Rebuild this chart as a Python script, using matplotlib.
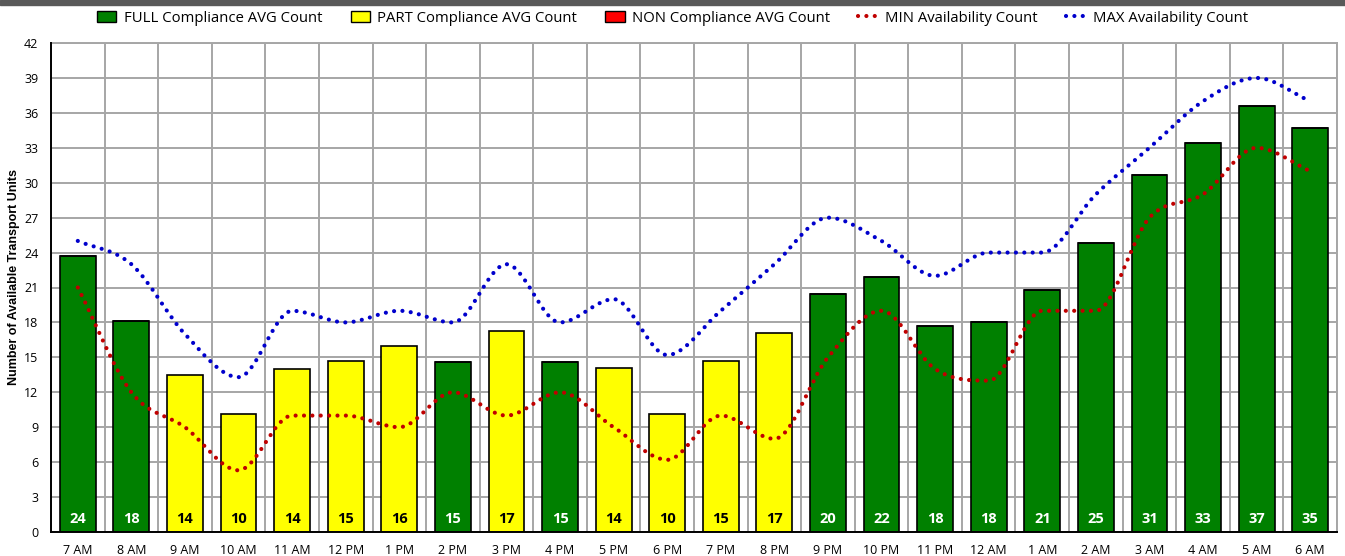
import matplotlib
matplotlib.use("Agg")
import matplotlib.pyplot as plt
from matplotlib.path import Path
from matplotlib.patches import PathPatch, Patch
from matplotlib.lines import Line2D
import numpy as np

hours = ["7 AM", "8 AM", "9 AM", "10 AM", "11 AM", "12 PM", "1 PM", "2 PM", "3 PM",
         "4 PM", "5 PM", "6 PM", "7 PM", "8 PM", "9 PM", "10 PM", "11 PM", "12 AM",
         "1 AM", "2 AM", "3 AM", "4 AM", "5 AM", "6 AM"]

full_avg = [23.7, 18.1, 0, 0, 0, 0, 0, 14.6, 0, 14.6, 0, 0, 0, 0,
            20.4, 21.9, 17.7, 18.0, 20.8, 24.8, 30.7, 33.4, 36.6, 34.7]
part_avg = [0, 0, 13.5, 10.1, 14.0, 14.7, 16.0, 0, 17.3, 0, 14.1, 10.1, 14.7, 17.1,
            0, 0, 0, 0, 0, 0, 0, 0, 0, 0]
non_avg = [0] * 24

min_avail = [21, 12, 9, 5.3, 10, 10, 9, 12, 10, 12, 9, 6.2, 10, 8,
             15, 19, 14, 13, 19, 19, 27, 29, 33, 31]
max_avail = [25, 23, 17, 13.3, 19, 18, 19, 18, 23, 18, 20, 15.2, 19, 23,
             27, 25, 22, 24, 24, 29, 33, 37, 39, 37]

GREEN = "#008000"
YELLOW = "#ffff00"
RED = "#ff0000"
LINE_RED = "#c00000"
LINE_BLUE = "#0000cc"
GRID = "#a6a6a6"


def smooth_path(xs, ys):
    # bezier segments through every point, flat at peaks/valleys (smoothed line look)
    xs = np.asarray(xs, dtype=float)
    ys = np.asarray(ys, dtype=float)
    n = len(xs)
    d = np.diff(ys) / np.diff(xs)
    m = np.zeros(n)
    m[0] = d[0]
    m[-1] = d[-1]
    for i in range(1, n - 1):
        if d[i - 1] * d[i] > 0:
            m[i] = (d[i - 1] + d[i]) / 2.0
            lim = 3 * min(abs(d[i - 1]), abs(d[i]))
            if abs(m[i]) > lim:
                m[i] = np.sign(m[i]) * lim
    verts = [(xs[0], ys[0])]
    codes = [Path.MOVETO]
    for i in range(n - 1):
        h = xs[i + 1] - xs[i]
        verts += [(xs[i] + h / 3, ys[i] + m[i] * h / 3),
                  (xs[i + 1] - h / 3, ys[i + 1] - m[i + 1] * h / 3),
                  (xs[i + 1], ys[i + 1])]
        codes += [Path.CURVE4] * 3
    return Path(verts, codes)


plt.rcParams['font.family'] = ['Open Sans', 'DejaVu Sans']

fig = plt.figure(figsize=(13.45, 5.56), dpi=100)
ax = fig.add_axes([51 / 1345, 1 - 532 / 556, (1337 - 51) / 1345, (532 - 43) / 556])

# dark strip on the very top
fig.patches.append(plt.Rectangle((0, 1 - 5 / 556), 1, 5 / 556, transform=fig.transFigure,
                                 color="#595959", zorder=0))

x = np.arange(len(hours))
full = np.array(full_avg)
part = np.array(part_avg)
non = np.array(non_avg)

ax.bar(x, full, width=0.67, color=GREEN, edgecolor="black", linewidth=1.2, zorder=3)
ax.bar(x, part, width=0.67, bottom=full, color=YELLOW, edgecolor="black", linewidth=1.2, zorder=3)
ax.bar(x, non, width=0.67, bottom=full + part, color=RED, edgecolor="black", linewidth=0, zorder=3)

totals = full + part + non
for xi, f, t in zip(x, full, totals):
    col = "white" if f > 0 else "black"
    ax.text(xi, 1.15, str(int(t + 0.5)), ha="center", va="center", fontsize=10.5,
            fontweight="bold", color=col, zorder=5)

dot_style = dict(linestyle=(0, (0.01, 2.0)), linewidth=3.0, capstyle="round", fill=False)
ax.add_patch(PathPatch(smooth_path(x, min_avail), edgecolor=LINE_RED, zorder=4, **dot_style))
ax.add_patch(PathPatch(smooth_path(x, max_avail), edgecolor=LINE_BLUE, zorder=4, **dot_style))

ax.set_xlim(-0.5, len(hours) - 0.5)
ax.set_ylim(0, 42)
ax.set_yticks(np.arange(0, 43, 3))
ax.set_xticks(x)
ax.set_xticklabels(hours, fontsize=9)
ax.tick_params(axis="y", labelsize=9, length=0, pad=9)
ax.tick_params(axis="x", length=0, pad=9)

ax.set_xticks(np.arange(-0.5, len(hours), 1), minor=True)
ax.grid(which="minor", axis="x", color=GRID, linewidth=1.4, zorder=1)
ax.grid(which="major", axis="y", color=GRID, linewidth=1.4, zorder=1)
ax.grid(which="major", axis="x", visible=False)
ax.tick_params(which="minor", length=0)
ax.set_axisbelow(True)

for s in ["top", "right"]:
    ax.spines[s].set_color(GRID)
    ax.spines[s].set_linewidth(1.4)
for s in ["left", "bottom"]:
    ax.spines[s].set_color("black")
    ax.spines[s].set_linewidth(1.4)
    ax.spines[s].set_zorder(6)

fig.text(14 / 1345, 1 - 277 / 556, "Number of Available Transport Units", rotation=90,
         ha="center", va="center", fontsize=9, fontweight="bold",
         family=["Liberation Sans Narrow", "Liberation Sans", "DejaVu Sans"])

handles = [
    Patch(facecolor=GREEN, edgecolor="black", label="FULL Compliance AVG Count"),
    Patch(facecolor=YELLOW, edgecolor="black", label="PART Compliance AVG Count"),
    Patch(facecolor=RED, edgecolor="black", label="NON Compliance AVG Count"),
    Line2D([0], [0], color=LINE_RED, linestyle=(0, (0.01, 2.0)), linewidth=3.0,
           dash_capstyle="round", label="MIN Availability Count"),
    Line2D([0], [0], color=LINE_BLUE, linestyle=(0, (0.01, 2.0)), linewidth=3.0,
           dash_capstyle="round", label="MAX Availability Count"),
]
fig.legend(handles=handles, loc="center", bbox_to_anchor=(0.5, 1 - 18 / 556), ncol=5,
           frameon=False, fontsize=10.7, handlelength=1.3, handleheight=0.7,
           columnspacing=1.9, handletextpad=0.5)

fig.savefig("out.png", dpi=100)
